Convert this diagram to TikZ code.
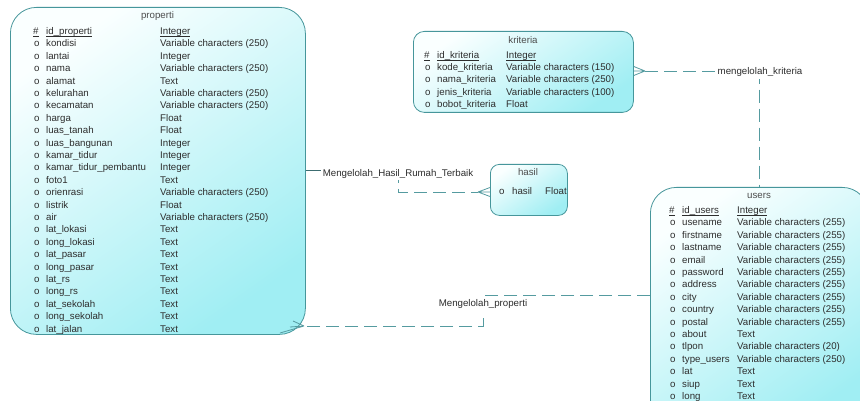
\documentclass[tikz,border=0pt]{standalone}
\usepackage{fontspec}
\setmainfont{Liberation Sans}
\definecolor{entline}{RGB}{70,150,155}
\definecolor{enttop}{RGB}{250,255,255}
\definecolor{entbot}{RGB}{160,238,243}
\definecolor{txt}{RGB}{45,45,45}
\definecolor{relline}{RGB}{85,155,160}
% underline that sits just below the baseline (primary keys)
\newcommand{\pkul}[1]{\setbox0\hbox{#1}\rlap{\rule[-1.7pt]{\wd0}{0.55pt}}\box0}
\tikzset{
  entbox/.style={draw=entline, line width=0.8pt, top color=enttop,
    bottom color=entbot, shading angle=35, anchor=north west, inner sep=0pt},
  ftxt/.style={font=\fontsize{9.7}{11}\selectfont, text=txt, inner sep=0pt, anchor=base west},
  ttl/.style={font=\fontsize{9.7}{11}\selectfont, text=txt!85, inner sep=0pt, anchor=base},
  rel/.style={draw=relline, line width=0.8pt, dash pattern=on 13pt off 6pt},
  relsolid/.style={draw=relline!70!black, line width=0.7pt},
  crow/.style={draw=relline, line width=0.8pt},
  rlabel/.style={font=\fontsize{9.7}{11}\selectfont, text=txt, fill=white, inner sep=2pt}
}
\begin{document}
\begin{tikzpicture}[x=1pt,y=-1pt]
\useasboundingbox (0,0) rectangle (860,401);
\clip (0,0) rectangle (860,401);
\fill[white] (0,0) rectangle (860,401);

% ---------- entity: properti ----------
\node[entbox, rounded corners=26pt, minimum width=295pt, minimum height=327pt] (properti) at (10,7) {};
\node[ttl] (p-title) at (157.5,18.5) {properti};
\node[ftxt] (p-k) at (33,34.5) {\pkul{\#}};
\node[ftxt] (p-idn) at (46,34.5) {\pkul{id\_properti}};
\node[ftxt] (p-idt) at (160,34.5) {\pkul{Integer}};
\foreach \nm/\ty [count=\i] in {
  kondisi/{Variable characters (250)}, lantai/Integer,
  nama/{Variable characters (250)}, alamat/Text,
  kelurahan/{Variable characters (250)}, kecamatan/{Variable characters (250)},
  harga/Float, luas\_tanah/Float, luas\_bangunan/Integer,
  kamar\_tidur/Integer, kamar\_tidur\_pembantu/Integer, foto1/Text,
  orienrasi/{Variable characters (250)}, listrik/Float,
  air/{Variable characters (250)}, lat\_lokasi/Text, long\_lokasi/Text,
  lat\_pasar/Text, long\_pasar/Text, lat\_rs/Text, long\_rs/Text,
  lat\_sekolah/Text, long\_sekolah/Text, lat\_jalan/Text}{
  \node[ftxt] (p-o\i) at (34,34.5+12.4*\i) {o};
  \node[ftxt] (p-n\i) at (46,34.5+12.4*\i) {\nm};
  \node[ftxt] (p-t\i) at (160,34.5+12.4*\i) {\ty};
}

% ---------- entity: kriteria ----------
\node[entbox, rounded corners=11pt, minimum width=220pt, minimum height=81pt] (kriteria) at (413,31) {};
\node[ttl] (k-title) at (523,43.5) {kriteria};
\node[ftxt] (k-k) at (424,58.5) {\pkul{\#}};
\node[ftxt] (k-idn) at (437,58.5) {\pkul{id\_kriteria}};
\node[ftxt] (k-idt) at (506,58.5) {\pkul{Integer}};
\foreach \nm/\ty [count=\i] in {
  kode\_kriteria/{Variable characters (150)},
  nama\_kriteria/{Variable characters (250)},
  jenis\_kriteria/{Variable characters (100)},
  bobot\_kriteria/Float}{
  \node[ftxt] (k-o\i) at (425,58.5+12.2*\i) {o};
  \node[ftxt] (k-n\i) at (437,58.5+12.2*\i) {\nm};
  \node[ftxt] (k-t\i) at (506,58.5+12.2*\i) {\ty};
}

% ---------- entity: hasil ----------
\node[entbox, rounded corners=9pt, minimum width=77pt, minimum height=51pt] (hasil) at (490,164) {};
\node[ttl] (h-title) at (528,175.5) {hasil};
\node[ftxt] (h-o) at (499,195) {o};
\node[ftxt] (h-n) at (512,195) {hasil};
\node[ftxt] (h-t) at (545,195) {Float};

% ---------- entity: users ----------
\node[entbox, rounded corners=26pt, minimum width=218pt, minimum height=240pt] (users) at (650,187) {};
\node[ttl] (u-title) at (759,198.5) {users};
\node[ftxt] (u-k) at (669,213.5) {\pkul{\#}};
\node[ftxt] (u-idn) at (682,213.5) {\pkul{id\_users}};
\node[ftxt] (u-idt) at (737,213.5) {\pkul{Integer}};
\foreach \nm/\ty [count=\i] in {
  usename/{Variable characters (255)}, firstname/{Variable characters (255)},
  lastname/{Variable characters (255)}, email/{Variable characters (255)},
  password/{Variable characters (255)}, address/{Variable characters (255)},
  city/{Variable characters (255)}, country/{Variable characters (255)},
  postal/{Variable characters (255)}, about/Text,
  tlpon/{Variable characters (20)}, type\_users/{Variable characters (250)},
  lat/Text, siup/Text, long/Text}{
  \node[ftxt] (u-o\i) at (670,213.5+12.4*\i) {o};
  \node[ftxt] (u-n\i) at (682,213.5+12.4*\i) {\nm};
  \node[ftxt] (u-t\i) at (737,213.5+12.4*\i) {\ty};
}

% ---------- relationship: mengelolah_kriteria ----------
\coordinate (kc) at (645,71);
\draw[crow] (kc) -- (kriteria.east |- 0,66.5) (kc) -- (kriteria.east |- kc) (kc) -- (kriteria.east |- 0,75.5);
\draw[rel] (kc) -| (users.north);
\node[rlabel] (lk) at (760,72) {mengelolah\_kriteria};

% ---------- relationship: Mengelolah_Hasil_Rumah_Terbaik ----------
\coordinate (ph) at (properti.east |- 0,170);
\coordinate (hbend) at (398,170);
\coordinate (hc) at (478,192);
\draw[crow] (hc) -- (hasil.west |- 0,187.5) (hc) -- (hasil.west |- hc) (hc) -- (hasil.west |- 0,196.5);
\draw[relsolid] (ph) -- (hbend);
\draw[rel] (hbend) |- (hc);
\node[rlabel] (lh) at (398,173.5) {Mengelolah\_Hasil\_Rumah\_Terbaik};

% ---------- relationship: Mengelolah_properti ----------
\coordinate (uc) at (users.west |- 0,295);
\coordinate (pbend) at (483,295);
\coordinate (pc) at (304,326);
\draw[crow] (pc) -- (293,321) (pc) -- (290,327) (pc) -- (280,333);
\draw[rel] (uc) -- (pbend) |- (pc);
\node[rlabel, inner sep=3pt] (lp) at (483,304) {Mengelolah\_properti};
\end{tikzpicture}
\end{document}
